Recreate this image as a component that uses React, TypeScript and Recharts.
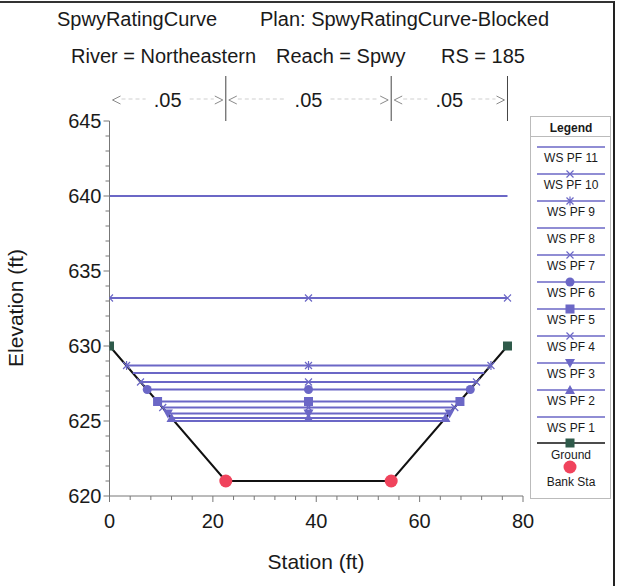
import React from 'react';
import { ScatterChart, Scatter, XAxis, YAxis, ReferenceLine } from 'recharts';

// ground profile and bank stations
const groundStation = [0, 22.5, 54.5, 77];
const groundElevation = [630, 621, 621, 630];
const bankStation = [22.5, 54.5];
const bankElevation = [621, 621];

// water surface profiles
const profileNames = ['WS PF 11', 'WS PF 10', 'WS PF 9', 'WS PF 8', 'WS PF 7', 'WS PF 6', 'WS PF 5', 'WS PF 4', 'WS PF 3', 'WS PF 2', 'WS PF 1'];
const wsElevation = [640.0, 633.2, 628.7, 628.2, 627.6, 627.1, 626.3, 625.9, 625.5, 625.2, 625.0];
const wsLeftStation = [0, 0, 3.3, 4.5, 6.0, 7.3, 9.3, 10.3, 11.3, 12.0, 12.5];
const wsMidStation = [38.5, 38.5, 38.5, 38.5, 38.5, 38.5, 38.5, 38.5, 38.5, 38.5, 38.5];
const wsRightStation = [77, 77, 73.8, 72.5, 71.0, 69.8, 67.8, 66.8, 65.8, 65.0, 64.5];

// manning's n regions
const nValues = ['.05', '.05', '.05'];
const nStart = [0, 22.5, 54.5];
const nEnd = [22.5, 54.5, 77];

const xTicks = [0, 4, 8, 12, 16, 20, 24, 28, 32, 36, 40, 44, 48, 52, 56, 60, 64, 68, 72, 76, 80];
const yTicks = [620, 621, 622, 623, 624, 625, 626, 627, 628, 629, 630, 631, 632, 633, 634, 635, 636, 637, 638, 639, 640, 641, 642, 643, 644, 645];

const FONT = 'Arial, "Liberation Sans", sans-serif';
const WS = '#6b67c6';
const AXIS = '#777';
const TEXT = '#1a1a1a';

const MARKER: Record<string, string> = {
  'WS PF 11': 'none',
  'WS PF 10': 'x',
  'WS PF 9': 'star',
  'WS PF 8': 'none',
  'WS PF 7': 'x',
  'WS PF 6': 'circle',
  'WS PF 5': 'square',
  'WS PF 4': 'x',
  'WS PF 3': 'down',
  'WS PF 2': 'up',
  'WS PF 1': 'none',
};

const Marker = ({ kind, cx, cy }: { kind: string; cx: number; cy: number }) => {
  if (cx == null || cy == null) return <g />;
  switch (kind) {
    case 'circle':
      return <circle cx={cx} cy={cy} r={4.5} fill={WS} />;
    case 'square':
      return <rect x={cx - 4.5} y={cy - 4.5} width={9} height={9} fill={WS} />;
    case 'up':
      return <polygon points={`${cx},${cy - 5} ${cx + 5},${cy + 4} ${cx - 5},${cy + 4}`} fill={WS} />;
    case 'down':
      return <polygon points={`${cx},${cy + 5} ${cx + 5},${cy - 4} ${cx - 5},${cy - 4}`} fill={WS} />;
    case 'x':
      return (
        <path d={`M${cx - 3.5},${cy - 3.5}L${cx + 3.5},${cy + 3.5}M${cx - 3.5},${cy + 3.5}L${cx + 3.5},${cy - 3.5}`} stroke={WS} strokeWidth={1.2} />
      );
    case 'star':
      return (
        <path d={`M${cx - 3.5},${cy - 3.5}L${cx + 3.5},${cy + 3.5}M${cx - 3.5},${cy + 3.5}L${cx + 3.5},${cy - 3.5}M${cx},${cy - 4.5}L${cx},${cy + 4.5}`} stroke={WS} strokeWidth={1.2} />
      );
    case 'ground':
      return <rect x={cx - 4.5} y={cy - 4.5} width={9} height={9} fill="#2f5a4a" />;
    case 'bank':
      return <circle cx={cx} cy={cy} r={6.5} fill="#f0435c" />;
    default:
      return <g />;
  }
};

const XTick = (props: any) => {
  const { x, y, payload } = props;
  const major = payload.value % 20 === 0;
  return (
    <g>
      <line x1={x} y1={y} x2={x} y2={y + (major ? 6 : 4)} stroke={AXIS} />
      {major && (
        <text x={x} y={y + 32} textAnchor="middle" fontSize={20} fontFamily={FONT} fill={TEXT}>
          {payload.value}
        </text>
      )}
    </g>
  );
};

const YTick = (props: any) => {
  const { x, y, payload } = props;
  const major = payload.value % 5 === 0;
  return (
    <g>
      <line x1={x - (major ? 6 : 4)} y1={y} x2={x} y2={y} stroke={AXIS} />
      {major && (
        <text x={x - 8} y={y + 7} textAnchor="end" fontSize={20} fontFamily={FONT} fill={TEXT}>
          {payload.value}
        </text>
      )}
    </g>
  );
};

const RangeMark = (props: any) => {
  const { x1, x2, y1, text } = props;
  const mid = (x1 + x2) / 2;
  const L = x1 + 3;
  const R = x2 - 3;
  const c = '#8a8a8a';
  return (
    <g>
      <line x1={L + 9} y1={y1 - 1} x2={mid - 22} y2={y1 - 1} stroke="#cfcfcf" strokeDasharray="4 3" />
      <line x1={mid + 22} y1={y1 - 1} x2={R - 9} y2={y1 - 1} stroke="#cfcfcf" strokeDasharray="4 3" />
      <path d={`M${L + 8},${y1 - 4}L${L},${y1}L${L + 8},${y1 + 4}`} fill="none" stroke={c} />
      <path d={`M${R - 8},${y1 - 4}L${R},${y1}L${R - 8},${y1 + 4}`} fill="none" stroke={c} />
      <text x={mid} y={y1 + 7} textAnchor="middle" fontSize={20} fontFamily={FONT} fill={TEXT}>
        {text}
      </text>
    </g>
  );
};

const Legend = () => {
  const rows = profileNames.map((name, i) => ({ name, kind: MARKER[name], line: 30 + 27 * i, text: 45 + 27 * i }));
  return (
    <svg
      width={81}
      height={383}
      style={{ position: 'absolute', left: 530, top: 116, border: '1px solid #bbb', background: '#fff', boxSizing: 'border-box' }}
    >
      <text x={40} y={15} textAnchor="middle" fontSize={12} fontWeight="bold" fontFamily={FONT} fill={TEXT}>
        Legend
      </text>
      <line x1={0} y1={19.5} x2={81} y2={19.5} stroke="#bbb" />
      {rows.map((r) => (
        <g key={r.name}>
          <line x1={6} y1={r.line} x2={74} y2={r.line} stroke={WS} strokeWidth={1.5} />
          <Marker kind={r.kind} cx={39} cy={r.line} />
          <text x={40} y={r.text} textAnchor="middle" fontSize={12} fontFamily={FONT} fill={TEXT}>
            {r.name}
          </text>
        </g>
      ))}
      <line x1={6} y1={326} x2={74} y2={326} stroke="#111" strokeWidth={1.5} />
      <Marker kind="ground" cx={39} cy={326} />
      <text x={40} y={342} textAnchor="middle" fontSize={12} fontFamily={FONT} fill={TEXT}>
        Ground
      </text>
      <Marker kind="bank" cx={39} cy={350} />
      <text x={40} y={369} textAnchor="middle" fontSize={12} fontFamily={FONT} fill={TEXT}>
        Bank Sta
      </text>
    </svg>
  );
};

export default function App() {
  const ground = groundStation.map((x, i) => ({ x, y: groundElevation[i] }));
  const groundEnds = [ground[0], ground[ground.length - 1]];
  const banks = bankStation.map((x, i) => ({ x, y: bankElevation[i] }));
  const profiles = profileNames.map((name, i) => ({
    name,
    data: [
      { x: wsLeftStation[i], y: wsElevation[i] },
      { x: wsMidStation[i], y: wsElevation[i] },
      { x: wsRightStation[i], y: wsElevation[i] },
    ],
  }));

  return (
    <div style={{ position: 'absolute', left: 0, top: 0, width: 621, height: 586, background: '#fff', fontFamily: FONT, color: TEXT }}>
      <div style={{ position: 'absolute', left: 0, top: 1, width: 613, height: 585, borderTop: '2px solid #333', borderRight: '2px solid #222' }} />
      <div style={{ position: 'absolute', left: 57, top: 8, fontSize: 20, whiteSpace: 'nowrap' }}>SpwyRatingCurve</div>
      <div style={{ position: 'absolute', left: 260, top: 8, fontSize: 20, whiteSpace: 'nowrap' }}>Plan: SpwyRatingCurve-Blocked</div>
      <div style={{ position: 'absolute', left: 71, top: 45, fontSize: 20, whiteSpace: 'nowrap' }}>River = Northeastern</div>
      <div style={{ position: 'absolute', left: 276, top: 45, fontSize: 20, whiteSpace: 'nowrap' }}>Reach = Spwy</div>
      <div style={{ position: 'absolute', left: 441, top: 45, fontSize: 20, whiteSpace: 'nowrap' }}>RS = 185</div>

      <ScatterChart width={621} height={586} margin={{ top: 121, right: 98, bottom: 50, left: 0 }} style={{ position: 'absolute', left: 0, top: 0 }}>
        <XAxis
          type="number"
          dataKey="x"
          domain={[0, 80]}
          ticks={xTicks}
          interval={0}
          allowDataOverflow
          height={40}
          stroke={AXIS}
          tickSize={0}
          tickMargin={0}
          tickLine={false}
          tick={<XTick />}
        />
        <YAxis
          type="number"
          dataKey="y"
          domain={[620, 645]}
          ticks={yTicks}
          interval={0}
          allowDataOverflow
          width={109.5}
          stroke={AXIS}
          tickSize={0}
          tickMargin={0}
          tickLine={false}
          tick={<YTick />}
        />
        {nStart.map((s, i) => (
          <ReferenceLine
            key={`n${i}`}
            segment={[{ x: s, y: 646.4 }, { x: nEnd[i], y: 646.4 }]}
            ifOverflow="visible"
            shape={(p: any) => <RangeMark {...p} text={nValues[i]} />}
          />
        ))}
        {[...bankStation, groundStation[groundStation.length - 1]].map((s, i) => (
          <ReferenceLine key={`b${i}`} segment={[{ x: s, y: 645 }, { x: s, y: 648 }]} ifOverflow="visible" stroke="#444" />
        ))}
        <Scatter
          name="Ground"
          data={ground}
          line={{ stroke: '#111', strokeWidth: 2 }}
          shape={() => <g />}
          isAnimationActive={false}
        />
        {profiles.map((p) => (
          <Scatter
            key={p.name}
            name={p.name}
            data={p.data}
            fill={WS}
            line={{ stroke: WS, strokeWidth: 1.8 }}
            shape={(s: any) => <Marker kind={MARKER[p.name]} cx={s.cx} cy={s.cy} />}
            isAnimationActive={false}
          />
        ))}
        <Scatter name="Ground ends" data={groundEnds} shape={(s: any) => <Marker kind="ground" cx={s.cx} cy={s.cy} />} isAnimationActive={false} />
        <Scatter name="Bank Sta" data={banks} shape={(s: any) => <Marker kind="bank" cx={s.cx} cy={s.cy} />} isAnimationActive={false} />
      </ScatterChart>

      <div style={{ position: 'absolute', left: 16, top: 308, fontSize: 21, whiteSpace: 'nowrap', transform: 'translate(-50%, -50%) rotate(-90deg)' }}>
        Elevation (ft)
      </div>
      <div style={{ position: 'absolute', left: 316, top: 562, fontSize: 21, whiteSpace: 'nowrap', transform: 'translate(-50%, -50%)' }}>
        Station (ft)
      </div>
      <Legend />
    </div>
  );
}
